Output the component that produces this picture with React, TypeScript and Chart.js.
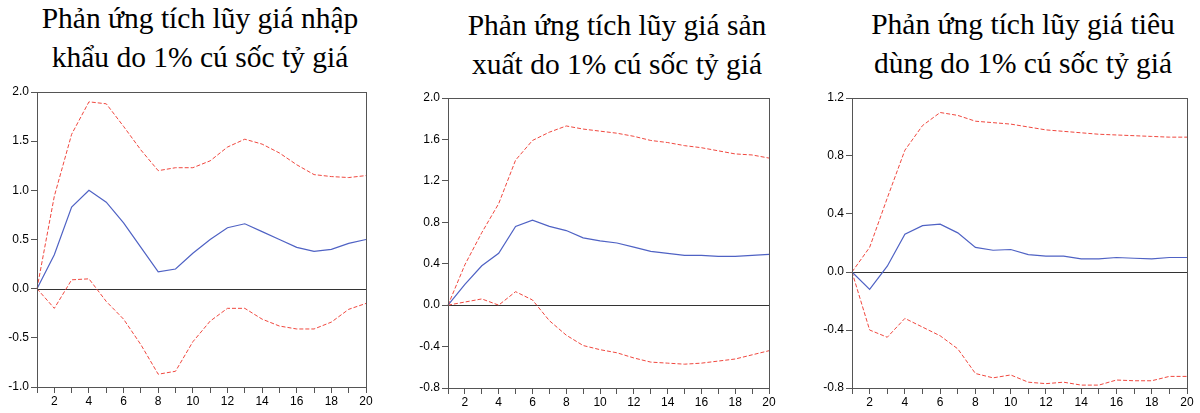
import React, { useEffect, useRef } from "react";
import { Chart, registerables } from "chart.js";

Chart.register(...registerables);

const periods = ["1","2","3","4","5","6","7","8","9","10","11","12","13","14","15","16","17","18","19","20"];

const titleImport = ["Phản ứng tích lũy giá nhập", "khẩu do 1% cú sốc tỷ giá"];
const titleProducer = ["Phản ứng tích lũy giá sản", "xuất do 1% cú sốc tỷ giá"];
const titleConsumer = ["Phản ứng tích lũy giá tiêu", "dùng do 1% cú sốc tỷ giá"];

const importResp = [0, 0.345, 0.83, 1.0, 0.88, 0.67, 0.42, 0.17, 0.2, 0.36, 0.5, 0.62, 0.66, 0.58, 0.5, 0.42, 0.38, 0.4, 0.46, 0.5];
const importUpper = [0, 0.94, 1.57, 1.9, 1.88, 1.65, 1.41, 1.2, 1.23, 1.23, 1.3, 1.44, 1.52, 1.47, 1.38, 1.26, 1.16, 1.14, 1.13, 1.15];
const importLower = [0, -0.2, 0.09, 0.1, -0.13, -0.31, -0.57, -0.87, -0.84, -0.54, -0.33, -0.2, -0.2, -0.31, -0.38, -0.41, -0.41, -0.34, -0.21, -0.15];

const producerResp = [0, 0.2, 0.38, 0.5, 0.76, 0.82, 0.76, 0.72, 0.65, 0.62, 0.6, 0.56, 0.52, 0.5, 0.48, 0.48, 0.47, 0.47, 0.48, 0.49];
const producerUpper = [0, 0.39, 0.7, 0.98, 1.4, 1.59, 1.67, 1.73, 1.7, 1.68, 1.66, 1.63, 1.59, 1.57, 1.54, 1.52, 1.49, 1.46, 1.45, 1.42];
const producerLower = [0, 0.03, 0.06, 0.0, 0.13, 0.05, -0.15, -0.29, -0.39, -0.43, -0.46, -0.51, -0.55, -0.56, -0.57, -0.56, -0.54, -0.52, -0.48, -0.44];

const consumerResp = [0, -0.12, 0.04, 0.26, 0.32, 0.33, 0.27, 0.17, 0.15, 0.155, 0.12, 0.11, 0.11, 0.09, 0.09, 0.1, 0.095, 0.09, 0.1, 0.1];
const consumerUpper = [0, 0.17, 0.51, 0.84, 1.01, 1.1, 1.08, 1.04, 1.03, 1.02, 1.0, 0.98, 0.97, 0.96, 0.95, 0.945, 0.94, 0.935, 0.93, 0.93];
const consumerLower = [0, -0.4, -0.45, -0.32, -0.38, -0.44, -0.53, -0.7, -0.73, -0.71, -0.76, -0.77, -0.76, -0.78, -0.78, -0.745, -0.75, -0.75, -0.72, -0.72];

const importTicks = { min: -1.0, max: 2.0, step: 0.5 };
const producerTicks = { min: -0.8, max: 2.0, step: 0.4 };
const consumerTicks = { min: -0.8, max: 1.2, step: 0.4 };

const BLUE = "#4f62c4";
const RED = "#f0483f";
const FRAME = "#555555";

const framePlugin = {
  id: "frameAndZero",
  beforeDatasetsDraw(chart: any) {
    const { ctx, chartArea, scales } = chart;
    const y0 = Math.round(scales.y.getPixelForValue(0)) + 0.5;
    ctx.save();
    ctx.strokeStyle = "#333333";
    ctx.lineWidth = 1;
    ctx.beginPath();
    ctx.moveTo(chartArea.left, y0);
    ctx.lineTo(chartArea.right, y0);
    ctx.stroke();
    ctx.restore();
  },
  afterDraw(chart: any) {
    const { ctx, chartArea } = chart;
    ctx.save();
    ctx.strokeStyle = FRAME;
    ctx.lineWidth = 1;
    ctx.strokeRect(
      Math.round(chartArea.left) + 0.5,
      Math.round(chartArea.top) + 0.5,
      Math.round(chartArea.right - chartArea.left),
      Math.round(chartArea.bottom - chartArea.top)
    );
    ctx.restore();
  },
};

type PanelProps = {
  left: number;
  width: number;
  yWidth: number;
  padTop: number;
  padRight: number;
  xHeight: number;
  resp: number[];
  upper: number[];
  lower: number[];
  ticks: { min: number; max: number; step: number };
};

function Panel(p: PanelProps) {
  const ref = useRef<HTMLCanvasElement | null>(null);
  useEffect(() => {
    if (!ref.current) return;
    const chart = new Chart(ref.current, {
      type: "line",
      data: {
        labels: periods,
        datasets: [
          { data: p.upper, borderColor: RED, borderWidth: 1, borderDash: [4, 2], pointRadius: 0, tension: 0, fill: false },
          { data: p.lower, borderColor: RED, borderWidth: 1, borderDash: [4, 2], pointRadius: 0, tension: 0, fill: false },
          { data: p.resp, borderColor: BLUE, borderWidth: 1.2, pointRadius: 0, tension: 0, fill: false },
        ],
      },
      options: {
        responsive: false,
        animation: false,
        events: [],
        layout: { padding: { top: p.padTop, right: p.padRight, bottom: 0, left: 0 } },
        plugins: { legend: { display: false }, tooltip: { enabled: false }, title: { display: false } },
        scales: {
          x: {
            type: "category",
            offset: false,
            grid: { drawOnChartArea: false, drawTicks: true, tickLength: 6, color: FRAME },
            border: { display: true, color: FRAME },
            ticks: {
              autoSkip: false,
              maxRotation: 0,
              padding: 1,
              color: "#000",
              font: { family: "'Liberation Sans', Arial, sans-serif", size: 12 },
              callback: (_v: any, i: number) => ((i + 1) % 2 === 0 ? periods[i] : ""),
            },
            afterFit: (s: any) => { s.height = p.xHeight; },
          },
          y: {
            type: "linear",
            min: p.ticks.min,
            max: p.ticks.max,
            grid: { drawOnChartArea: false, drawTicks: true, tickLength: 6, color: FRAME },
            border: { display: true, color: FRAME },
            ticks: {
              stepSize: p.ticks.step,
              padding: 2,
              color: "#000",
              font: { family: "'Liberation Sans', Arial, sans-serif", size: 12 },
              callback: (v: any) => (Math.abs(Number(v)) < 1e-9 ? "0.0" : Number(v).toFixed(1)),
            },
            afterFit: (s: any) => { s.width = p.yWidth; },
          },
        },
      },
      plugins: [framePlugin],
    } as any);
    return () => chart.destroy();
  }, []);
  return (
    <canvas
      ref={ref}
      width={p.width}
      height={333}
      style={{ position: "absolute", left: p.left, top: 80, width: p.width, height: 333 }}
    />
  );
}

function Title({ lines, center, top }: { lines: string[]; center: number; top: number }) {
  return (
    <div
      style={{
        position: "absolute",
        left: center - 220,
        width: 440,
        top,
        textAlign: "center",
        fontFamily: "'Liberation Serif', 'Times New Roman', serif",
        fontSize: 29.5,
        lineHeight: "38.5px",
        color: "#000",
        whiteSpace: "nowrap",
      }}
    >
      {lines.map((l, i) => (
        <div key={i}>{l}</div>
      ))}
    </div>
  );
}

export default function App() {
  return (
    <div style={{ position: "absolute", left: 0, top: 0, width: 1200, height: 413, background: "#fff", overflow: "hidden" }}>
      <Title lines={titleImport} center={200} top={-1} />
      <Title lines={titleProducer} center={617} top={6} />
      <Title lines={titleConsumer} center={1023} top={5} />
      <Panel left={0} width={376} yWidth={37} padTop={12} padRight={10} xHeight={26}
        resp={importResp} upper={importUpper} lower={importLower} ticks={importTicks} />
      <Panel left={405} width={375} yWidth={43} padTop={18} padRight={11} xHeight={25}
        resp={producerResp} upper={producerUpper} lower={producerLower} ticks={producerTicks} />
      <Panel left={805} width={395} yWidth={47} padTop={18} padRight={13} xHeight={25}
        resp={consumerResp} upper={consumerUpper} lower={consumerLower} ticks={consumerTicks} />
    </div>
  );
}
